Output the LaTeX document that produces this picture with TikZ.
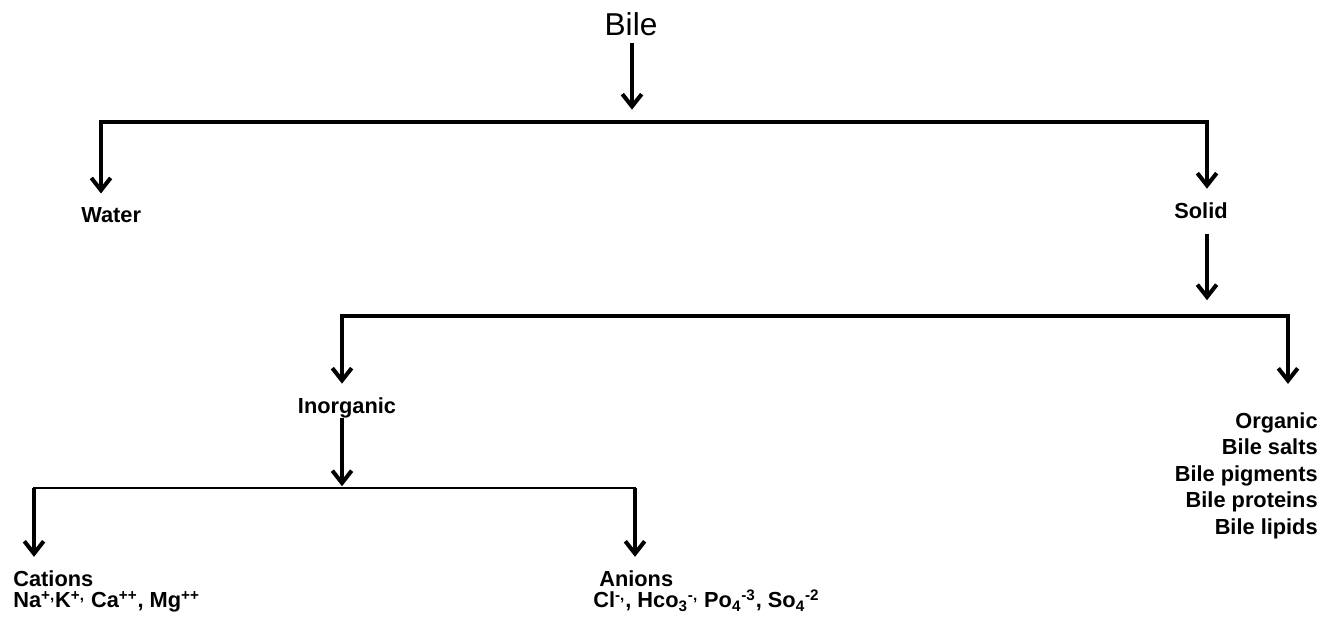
\documentclass[tikz,border=0pt]{standalone}
\usepackage{fontspec}
\setmainfont{Liberation Sans}
\usetikzlibrary{arrows.meta}

\begin{document}
\begin{tikzpicture}[x=0.02cm,y=-0.02cm,
  lbl/.style={inner sep=0pt,font=\bfseries\fontsize{12.4}{15.1}\selectfont},
  ions/.style={lbl,align=left,anchor=north west,font=\bfseries\fontsize{12.4}{12.4}\selectfont},
  arr/.style={-{Straight Barb[length=7pt,width=11pt,line width=2.3pt]},line width=1.9pt,shorten >=7.5pt},
  ln/.style={line width=1.9pt,line cap=rect}]
  \useasboundingbox (0,0) rectangle (1332,619);
  \node[inner sep=0pt,anchor=base,font=\fontsize{18}{20}\selectfont] (bile) at (631,35) {Bile};
  % water / solid
  \coordinate (top) at (632,122);
  \coordinate (w1) at (101,122);
  \coordinate (s1) at (1207,122);
  \node[lbl,anchor=base west] (water) at (81,222) {Water};
  \node[lbl,anchor=base] (solid) at (1201,218) {Solid};
  \draw[arr,shorten <=4pt,shorten >=7pt] (bile.south -| top) -- (top);
  \draw[ln] (w1) -- (s1);
  \draw[arr] (w1) -- (w1 |- water.north);
  \draw[arr] (s1) -- (s1 |- solid.north);
  % inorganic / organic
  \coordinate (s2) at (1207,316);
  \coordinate (i1) at (342,316);
  \coordinate (o1) at (1288,316);
  \node[lbl,anchor=base] (inorg) at (347,413) {Inorganic};
  \node[lbl,anchor=north east,align=right] (organic) at (1318,412)
    {Organic\\Bile salts\\Bile pigments\\Bile proteins\\Bile lipids};
  \draw[arr,shorten <=8.5pt,shorten >=9pt] (solid.south -| s1) -- (s2);
  \draw[ln] (i1) -- (o1);
  \draw[arr] (i1) -- (i1 |- inorg.north);
  \draw[arr,shorten >=16pt] (o1) -- (o1 |- organic.north);
  % cations / anions
  \coordinate (c0) at (342,488);
  \coordinate (c1) at (34,488);
  \coordinate (a1) at (635,488);
  \node[ions] (cations) at (13,570)
    {Cations\\Na\textsuperscript{+,}K\textsuperscript{+,} Ca\textsuperscript{++}, Mg\textsuperscript{++}};
  \node[ions] (anions) at (593,570)
    {\hspace*{3.4pt}Anions\\Cl\textsuperscript{-,}, Hco\textsubscript{3}\textsuperscript{-,} Po\textsubscript{4}\textsuperscript{-3}, So\textsubscript{4}\textsuperscript{-2}};
  \draw[arr,shorten >=1pt] (inorg.south -| i1) -- (c0);
  \draw[ln,line width=1.2pt] (c1) -- (a1);
  \draw[arr] (c1) -- (c1 |- cations.north);
  \draw[arr] (a1) -- (a1 |- anions.north);
\end{tikzpicture}
\end{document}
